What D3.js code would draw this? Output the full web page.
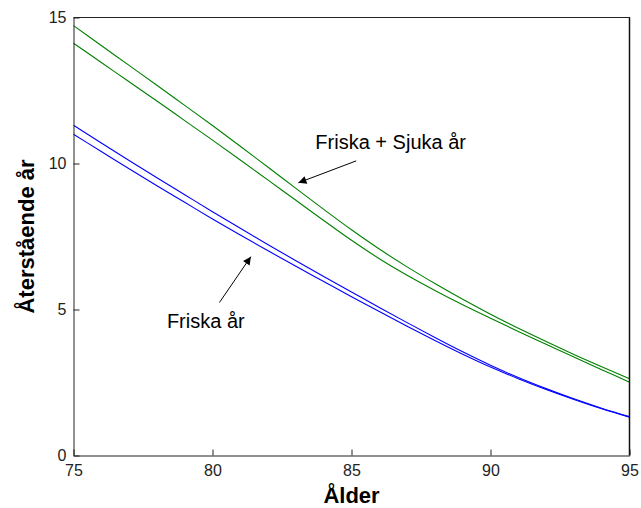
<!DOCTYPE html>
<html>
<head>
<meta charset="utf-8">
<script src="https://cdn.jsdelivr.net/npm/d3@7"></script>
<style>
html,body{margin:0;padding:0;background:#fff;}
text{font-family:"Liberation Sans",Arial,Helvetica,sans-serif;}
</style>
</head>
<body>
<svg id="chart" width="641" height="508"></svg>
<script>
// ---- data ----
const ages = [75,76,77,78,79,80,81,82,83,84,85,86,87,88,89,90,91,92,93,94,95];
const totalUpper = [14.72,14.04,13.36,12.68,11.99,11.30,10.59,9.87,9.15,8.43,7.73,7.07,6.46,5.89,5.35,4.84,4.36,3.90,3.46,3.04,2.63];
const totalLower = [14.12,13.46,12.80,12.14,11.47,10.80,10.12,9.43,8.74,8.05,7.37,6.74,6.17,5.65,5.16,4.70,4.25,3.81,3.37,2.94,2.51];
const healthyUpper = [11.31,10.70,10.10,9.51,8.93,8.35,7.78,7.22,6.67,6.13,5.60,5.07,4.55,4.04,3.55,3.09,2.67,2.29,1.94,1.62,1.33];
const healthyLower = [11.00,10.41,9.82,9.24,8.67,8.10,7.55,7.01,6.48,5.96,5.44,4.93,4.43,3.94,3.47,3.03,2.63,2.26,1.92,1.60,1.31];
const xTicks = [75,80,85,90,95];
const yTicks = [0,5,10,15];
const xLabel = "Ålder";
const yLabel = "Återstående år";
const annoTexts = ["Friska + Sjuka år","Friska år"];
const annoTextPos = [[83.7,10.5],[78.36,4.36]];
const annoArrowFrom = [[85.17,10.09],[80.25,5.24]];
const annoArrowTo = [[83.09,9.34],[81.38,6.81]];

const series = [
  {values: totalUpper, color: "#008000"},
  {values: totalLower, color: "#008000"},
  {values: healthyUpper, color: "#0000ff"},
  {values: healthyLower, color: "#0000ff"}
];

const svg = d3.select("#chart");
const L = 73.5, R = 629.5, T = 17.5, B = 455.5;
const x = d3.scaleLinear().domain([75,95]).range([L,R]);
const y = d3.scaleLinear().domain([0,15]).range([B,T]);

const defs = svg.append("defs");
defs.append("marker").attr("id","ah").attr("viewBox","0 0 10 10")
  .attr("refX",10).attr("refY",5).attr("markerWidth",13).attr("markerHeight",8)
  .attr("markerUnits","userSpaceOnUse").attr("orient","auto")
  .append("path").attr("d","M0,0 L10,5 L0,10 z").attr("fill","#000");

// curves
const line = d3.line().x((d,i)=>x(ages[i])).y(d=>y(d)).curve(d3.curveMonotoneX);
svg.append("g").selectAll("path").data(series).join("path")
  .attr("d", d=>line(d.values))
  .attr("fill","none").attr("stroke",d=>d.color).attr("stroke-width",1.1);

// axes (ticks inside)
const xAxis = d3.axisBottom(x).tickValues(xTicks).tickSize(-6).tickPadding(12).tickSizeOuter(0);
const gx = svg.append("g").attr("transform",`translate(0,${B})`).call(xAxis);
const yAxis = d3.axisLeft(y).tickValues(yTicks).tickSize(-6).tickPadding(12).tickSizeOuter(0);
const gy = svg.append("g").attr("transform",`translate(${L},0)`).call(yAxis);
[gx,gy].forEach(g=>{
  g.select(".domain").attr("stroke","#222");
  g.selectAll(".tick line").attr("stroke","#222");
  g.selectAll(".tick text").attr("fill","#222").style("font-size","16px")
   .style("font-family","'Liberation Sans',Arial,sans-serif");
});
gx.selectAll(".tick text").attr("dy","0.55em");
gy.selectAll(".tick text").attr("x",-7).attr("dy","0.32em");

// frame top/right
svg.append("line").attr("x1",L).attr("x2",R+0.5).attr("y1",T).attr("y2",T).attr("stroke","#222");
svg.append("line").attr("x1",R).attr("x2",R).attr("y1",T).attr("y2",B).attr("stroke","#111").attr("stroke-width",1.5);

// axis labels
svg.append("text").attr("x",(L+R)/2).attr("y",503).attr("text-anchor","middle")
  .style("font-size","22px").style("font-weight","bold").attr("fill","#000").text(xLabel);
svg.append("text").attr("transform",`translate(34,${(T+B)/2}) rotate(-90)`).attr("text-anchor","middle")
  .style("font-size","22px").style("font-weight","bold").attr("fill","#000").text(yLabel);

// annotations
annoTexts.forEach((t,i)=>{
  svg.append("text").attr("x",x(annoTextPos[i][0])).attr("y",y(annoTextPos[i][1]))
    .style("font-size","20px").attr("fill","#000").text(t);
  svg.append("line")
    .attr("x1",x(annoArrowFrom[i][0])).attr("y1",y(annoArrowFrom[i][1]))
    .attr("x2",x(annoArrowTo[i][0])).attr("y2",y(annoArrowTo[i][1]))
    .attr("stroke","#000").attr("stroke-width",1).attr("marker-end","url(#ah)");
});
</script>
</body>
</html>
